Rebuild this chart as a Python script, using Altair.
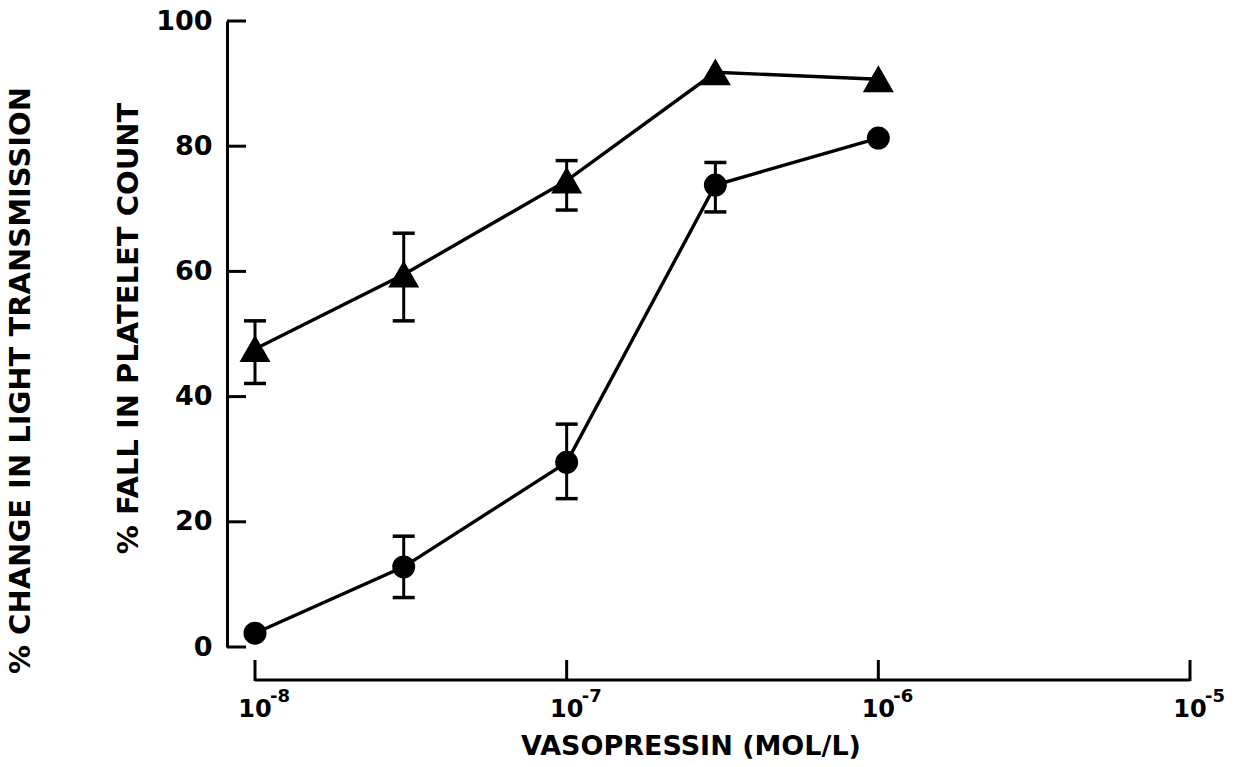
import altair as alt
import pandas as pd

# Vasopressin concentrations (mol/L) and responses (%)
conc = [1e-8, 3e-8, 1e-7, 3e-7, 1e-6]
light_mean = [47.6, 59.5, 74.5, 91.8, 90.7]
light_low = [42.1, 52.1, 69.8, None, None]
light_high = [52.1, 66.1, 77.7, None, None]
platelet_mean = [2.2, 12.8, 29.5, 73.8, 81.3]
platelet_low = [None, 7.9, 23.7, 69.5, None]
platelet_high = [None, 17.7, 35.6, 77.4, None]

x_ticks = [1e-8, 1e-7, 1e-6, 1e-5]
x_exponents = ["-8", "-7", "-6", "-5"]
y_ticks = [0, 20, 40, 60, 80, 100]
x_title = "VASOPRESSIN (MOL/L)"

W, H = 963, 626
FONT = "DejaVu Sans"

light = pd.DataFrame({"conc": conc, "value": light_mean, "lo": light_low, "hi": light_high})
plate = pd.DataFrame({"conc": conc, "value": platelet_mean, "lo": platelet_low, "hi": platelet_high})
xt = pd.DataFrame({"t": x_ticks, "exp": x_exponents})
yt = pd.DataFrame({"v": y_ticks})
x_line = pd.DataFrame({"a": [x_ticks[0]], "b": [x_ticks[-1]]})

xs = alt.Scale(type="log", domain=[1e-8, 1e-5], range=[28, W])
ys = alt.Scale(domain=[0, 100], nice=False, zero=False)

y_axis_main = alt.Axis(
    orient="left", values=y_ticks, ticks=False, grid=False,
    domainColor="black", domainWidth=3,
    labelFont=FONT, labelFontSize=27, labelFontWeight="bold",
    labelColor="black", labelPadding=15,
    title="% FALL IN PLATELET COUNT", titleFont=FONT, titleFontSize=29,
    titleFontWeight="bold", titleColor="black", titleAngle=270,
    titleAlign="center", titleBaseline="middle", titleX=-99, titleY=307,
)

y_axis_second = alt.Axis(
    orient="left", ticks=False, labels=False, domain=False, grid=False,
    title="% CHANGE IN LIGHT TRANSMISSION", titleFont=FONT, titleFontSize=29,
    titleFontWeight="bold", titleColor="black", titleAngle=270,
    titleAlign="center", titleBaseline="middle", titleX=-207, titleY=359,
)

def X(field="conc:Q"):
    return alt.X(field, scale=xs, axis=None)

light_line = alt.Chart(light).mark_line(color="black", strokeWidth=3.4).encode(
    x=X(), y=alt.Y("value:Q", scale=ys, axis=y_axis_main)
)
plate_line = alt.Chart(plate).mark_line(color="black", strokeWidth=3.4).encode(
    x=X(), y=alt.Y("value:Q", scale=ys, axis=y_axis_second)
)

def error_layers(df):
    base = alt.Chart(df).transform_filter("isValid(datum.lo)")
    bar = base.mark_rule(color="black", strokeWidth=3, opacity=1).encode(
        x=X(), y=alt.Y("lo:Q", scale=ys, axis=None), y2="hi:Q"
    )
    cap_lo = base.mark_tick(color="black", orient="horizontal", size=22, thickness=3.5, opacity=1).encode(
        x=X(), y=alt.Y("lo:Q", scale=ys, axis=None)
    )
    cap_hi = base.mark_tick(color="black", orient="horizontal", size=22, thickness=3.5, opacity=1).encode(
        x=X(), y=alt.Y("hi:Q", scale=ys, axis=None)
    )
    return [bar, cap_lo, cap_hi]

light_pts = alt.Chart(light).mark_point(
    shape="triangle-up", filled=True, fill="black", stroke="black", size=760, opacity=1
).encode(x=X(), y=alt.Y("value:Q", scale=ys, axis=None))
plate_pts = alt.Chart(plate).mark_point(
    shape="circle", filled=True, fill="black", stroke="black", size=440, opacity=1
).encode(x=X(), y=alt.Y("value:Q", scale=ys, axis=None))

# inward tick marks on the y axis
y_tick_marks = alt.Chart(yt).mark_rule(color="black", strokeWidth=3).encode(
    y=alt.Y("v:Q", scale=ys, axis=None), x=alt.value(0), x2=alt.value(19)
)

# detached x axis: baseline, upward ticks, 10^n labels and title
x_domain = alt.Chart(x_line).mark_rule(color="black", strokeWidth=3).encode(
    x=X("a:Q"), x2="b:Q", y=alt.value(H + 33)
)
x_tick_marks = alt.Chart(xt).mark_rule(color="black", strokeWidth=3).encode(
    x=X("t:Q"), y=alt.value(H + 34), y2=alt.value(H + 13)
)
x_base = alt.Chart(xt).mark_text(
    text="10", font=FONT, fontSize=24, fontWeight="bold", color="black",
    align="center", baseline="alphabetic"
).encode(x=X("t:Q"), y=alt.value(H + 70))
x_sup = alt.Chart(xt).mark_text(
    font=FONT, fontSize=18, fontWeight="bold", color="black",
    align="left", baseline="alphabetic", dx=15
).encode(x=X("t:Q"), y=alt.value(H + 55), text="exp:N")
x_label = alt.Chart(pd.DataFrame({"title": [x_title]})).mark_text(
    font=FONT, fontSize=27, fontWeight="bold", color="black",
    align="center", baseline="alphabetic"
).encode(x=alt.value(464), y=alt.value(H + 108), text="title:N")

chart = alt.layer(
    light_line, plate_line,
    *error_layers(light), *error_layers(plate),
    light_pts, plate_pts,
    y_tick_marks, x_domain, x_tick_marks, x_base, x_sup, x_label,
).resolve_axis(y="independent").properties(
    width=W, height=H,
    autosize=alt.AutoSizeParams(type="none"),
    padding={"left": 227, "top": 21, "right": 57, "bottom": 120},
    background="white",
).configure_view(stroke=None)

chart.save("out.html", embed_options={"renderer": "svg", "actions": False})
